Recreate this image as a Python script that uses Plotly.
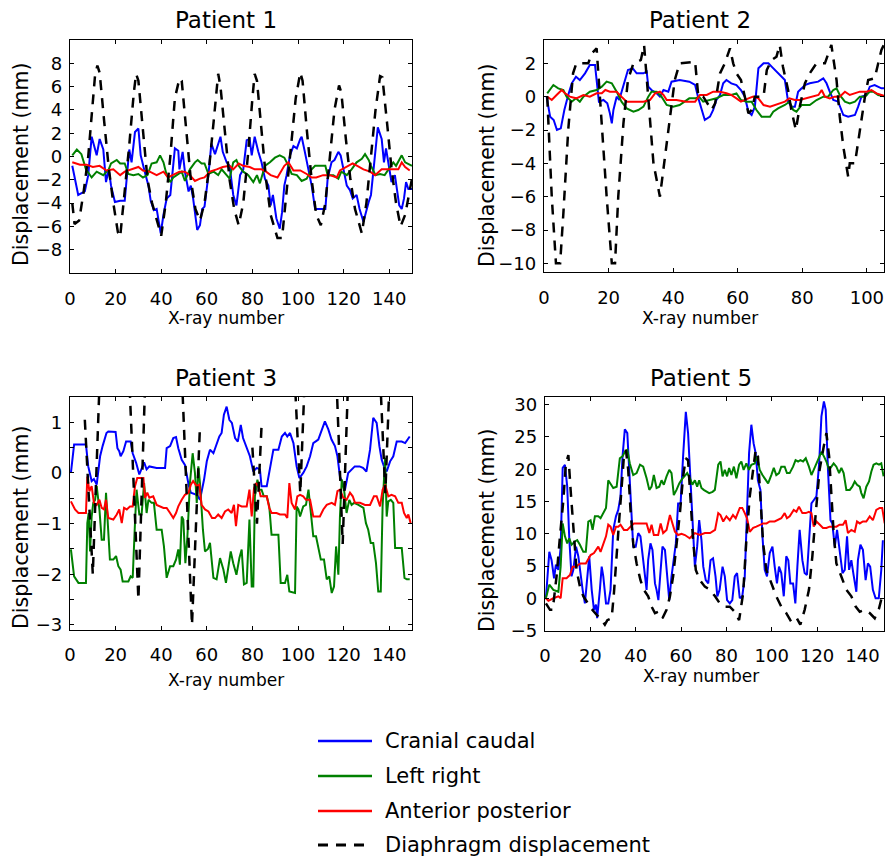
import plotly.graph_objects as go

# ---------------- data (x-ray number, displacement mm) ----------------
p1_cranial = [(1,-0.8),(3.6,-3.3),(6.5,-3.0),(8,-1.6),(9.5,1.7),(11.7,0.1),(13,1.5),(14.6,0.6),(15.8,-2.2),(17,-1.1),(18,-2.5),(19.7,-3.9),(22,-3.8),(24,-3.8),(25,-1.6),(26,0.6),(27,-0.5),(28.5,2.1),(30,2.4),(31,0.1),(32.5,-1.1),(34.4,-2.5),(35.4,-3.8),(36.8,-4.6),(38,-4.5),(39.8,-6.6),(41,-5.0),(42.4,-3.6),(44,-3.3),(45,-1.1),(46,0.7),(47.5,0.5),(48,-1.1),(49.4,0.4),(50.4,-1.3),(52,-3.0),(53,-2.5),(54,-3.6),(55.8,-6.3),(57,-5.9),(58,-4.5),(59,-4.3),(60.7,-1.6),(62,1.1),(63.6,0.2),(66,1.7),(67,0.4),(68.7,-0.5),(70,-0.8),(71.6,-3.3),(73,-4.2),(74.6,-1.6),(76,-1.1),(77.5,1.4),(78.8,1.5),(79.7,0.1),(81,1.7),(82.6,0.4),(84,-0.5),(85.5,-1.9),(87,-2.5),(88,-4.2),(89,-3.3),(90.5,-5.3),(92,-6.2),(93,-4.8),(94,-2.5),(95,-1.6),(96.5,0.1),(98,0.9),(99.5,0.7),(101,1.5),(101.6,1.7),(103,0.4),(104.5,-1.1),(106,-2.5),(107.5,-4.5),(110,-4.5),(112,-4.5),(113,-1.9),(114.7,-0.5),(116,-0.3),(117.7,0.4),(118.7,0.1),(120,-1.1),(121.4,-2.5),(122.8,-2.9),(124,-3.6),(125.7,-3.3),(127,-4.5),(128.7,-5.6),(130,-4.5),(131,-3.9),(132,-3.3),(133,-1.3),(134,0.7),(135,2.5),(136.7,1.5),(137.7,-0.5),(138.6,0.7),(140,-1.1),(141,-2.2),(142.5,-1.6),(144.4,-4.2),(145.5,-4.5),(146.5,-3.6),(147.4,-2.2),(148.4,-2.8),(150,-2.8)]
p1_leftright = [(1,0.1),(3,0.6),(5,0.2),(7,-1.1),(9.5,-1.8),(11.7,-1.3),(14.6,-1.6),(17,-1.1),(18,-0.6),(20.5,-0.3),(22,-0.6),(24,-0.6),(25.6,-1.5),(27.8,-1.6),(30,-1.5),(32,-1.8),(34,-1.6),(35.8,-0.6),(38,-0.5),(39.5,0.1),(41,-0.5),(42.4,-1.6),(44,-2.2),(45.3,-1.8),(46.8,-1.6),(49,-1.3),(50.4,-2.1),(52.6,-1.1),(54.8,-0.5),(56,-0.3),(57.7,-0.6),(59,-0.6),(60.7,-1.5),(63,-1.3),(65,-1.6),(66.5,-1.1),(68.7,-1.6),(70,-1.9),(71.6,-0.5),(73,-0.3),(74,-0.8),(76,-1.3),(78.2,-1.6),(80.4,-2.2),(82,-1.6),(83.3,-2.3),(85.5,-0.8),(87.7,-0.5),(89.9,-0.1),(92,0.1),(94,-0.1),(95.8,-0.8),(97.2,-1.5),(99.5,-1.6),(101.6,-2.1),(103.8,-1.9),(106,-1.1),(107.5,-0.8),(112,-0.8),(113,-1.6),(115.5,-1.6),(117.7,-1.9),(119,-1.3),(121.4,-1.6),(123.5,-1.1),(125.7,-0.5),(128,-0.2),(129.4,0.2),(131,-0.3),(132,-0.8),(134,-1.6),(136,-1.5),(138,-1.6),(139.6,-1.1),(141.8,-0.5),(143,-0.8),(145.5,0.1),(147,-0.5),(150,-0.8)]
p1_antpost = [(1,-0.5),(4.4,-0.7),(7.3,-0.7),(10,-0.9),(13,-0.8),(16,-1.2),(19,-1.1),(22,-1.6),(24,-1.3),(27,-1.1),(30,-0.9),(32,-1.2),(35,-1.3),(38,-1.6),(41,-1.3),(43,-1.8),(45,-1.6),(48,-1.3),(50.4,-1.3),(52.6,-1.6),(54.8,-2.1),(57,-1.9),(59,-1.8),(61.4,-1.3),(64.3,-1.1),(67,-0.9),(70,-0.8),(71.6,-1.1),(74,-0.6),(76,-0.8),(78.8,-0.9),(81,-1.1),(84,-1.1),(86,-1.3),(88,-1.6),(91,-1.8),(94,-0.8),(95.8,-0.5),(98,-1.2),(101,-1.2),(103.8,-1.5),(106,-1.8),(108,-1.8),(111,-1.6),(114,-1.6),(117,-1.8),(118.4,-1.2),(121.4,-0.9),(124,-0.6),(126,-0.8),(128.7,-1.1),(131.6,-1.3),(133.8,-1.6),(136.7,-1.1),(138.9,-1.1),(141,-1.1),(144,-1.1),(145.5,-0.5),(147,-0.9),(149,-1.2)]
p1_diaphragm = [(1,-4),(2,-5.8),(4,-5.5),(6,-3),(8,0),(10,4.5),(11,7),(12,7.8),(13,7.2),(15,3),(17,-1),(19,-4),(21,-6.5),(22,-6.9),(24,-3),(26,1),(28,5.5),(29,7.1),(30,6.5),(32,2),(34,-2),(36,-4),(38,-5.5),(40,-6.8),(42,-4),(44,0),(46,5),(48,6.7),(49,6.5),(51,2),(53,-2),(55,-4.5),(57,-5.5),(59,-4),(61,-1),(63,3),(65,7.1),(66,6),(68,2),(70,-2),(72,-4.5),(74,-5.9),(76,-4),(78,0),(80,5),(81,7.1),(82,6.5),(84,2),(86,-2),(88,-5),(90,-6.5),(91,-7),(93,-7),(95,-3),(97,1),(99,5),(101,7.2),(102,6.5),(104,2),(106,-2),(108,-5),(110,-5.9),(112,-4),(114,0),(116,4),(118,6.1),(119,5.5),(121,1.5),(123,-2),(125,-4.5),(128,-6.6),(130,-4),(132,0),(134,4),(136,6.9),(137,6.8),(139,3),(141,-1),(143,-4),(145,-6),(147,-5),(150,-1.9)]

p2_cranial = [(0.8,0),(1.9,-1.2),(3,-1.4),(4,-2),(5.2,-1.9),(6.3,-0.8),(7.5,0.1),(8.6,0.8),(9.9,1.2),(11.1,1),(12.7,1.4),(14.2,1.9),(15.8,1.9),(16.5,0.8),(17,-0.3),(18.4,-0.2),(19.6,-0.4),(20.4,-1),(21,-1.6),(21.5,-0.8),(22.5,0),(23.3,-0.2),(24.6,0.6),(26,1.6),(27.5,1.7),(28.7,1.4),(30.8,1.4),(31.8,1.5),(32.3,0.6),(33.3,0.4),(34.9,0.2),(35.9,0),(37,0.4),(38.5,0.3),(39.5,0.9),(42,1),(45,0.9),(46.8,0.7),(47.8,-0.1),(48.8,-0.8),(49.8,-1.4),(51.4,-1.2),(52.4,-0.8),(53.4,-0.2),(54.5,0.1),(55.5,0.8),(56.5,1),(58,0.8),(59.6,0.7),(61,0.4),(62.2,0),(63.3,-0.9),(64.3,-1.1),(65.3,-0.6),(66.4,1.7),(68,2),(69.5,2),(70.5,1.8),(72,1.5),(73.6,1.2),(74.6,1),(75.6,-0.3),(76.7,-0.6),(77.7,-0.6),(78.7,0.3),(79.8,0.5),(80.8,0.7),(82.3,0.8),(84.9,0.9),(86.5,1.1),(87.5,0.8),(88.5,0.3),(89.6,-0.2),(91.1,-0.3),(92.7,-1.1),(94.2,-1.2),(96.3,-1.1),(97.3,-0.6),(98.3,0),(99.9,0.1),(100.9,0.6),(102.4,0.7),(104.5,0.5),(106,0.5)]
p2_leftright = [(1,0.2),(2.9,0.7),(4.4,0.5),(6,0.4),(7,0),(8.6,-0.3),(9.9,-0.1),(11.1,-0.3),(12.2,0),(14.2,0.3),(16.3,0.4),(17.9,0.6),(19.4,0.9),(21,0.8),(22.5,0.3),(24,-0.3),(25.6,-0.7),(27.7,-0.9),(29.2,-0.8),(30.8,-0.6),(32.3,0),(33.3,0.3),(34.9,0.3),(36.4,0),(38,-0.5),(40,-0.6),(42,-0.5),(45,-0.1),(47,-0.1),(48,0),(49.3,-0.3),(51.4,-0.2),(53.4,-0.1),(55.5,0.1),(58,0.1),(59.6,0.2),(61,-0.2),(62.7,-0.3),(64.3,-0.3),(65.8,-0.8),(67.4,-1.2),(70,-1.2),(71,-0.9),(72.5,-0.7),(74.6,-0.5),(76,-0.3),(77.2,-0.8),(78.2,-0.9),(79.8,-0.5),(82.3,-0.5),(84.4,-0.2),(86.5,0),(88,0),(89.6,0.4),(90.6,0.5),(91.6,0.1),(93.2,-0.3),(94.7,-0.4),(96.3,-0.3),(97.8,0),(99.4,0),(100.9,0.3),(102,0.3),(103.5,0.1),(106,0)]
p2_antpost = [(1,0),(2.4,-0.2),(3.9,0.1),(5.5,0.4),(6.5,0.2),(8,0),(10,-0.1),(12.2,0.1),(14.2,0),(16.3,0.2),(17.9,0.2),(19,0.4),(20.4,0.3),(22.5,0.3),(24,0),(25.6,-0.3),(27.7,-0.3),(30.8,-0.3),(32.8,-0.2),(34.4,0.2),(35.9,0.3),(37,0.1),(38,-0.2),(41,-0.2),(44,-0.3),(46.8,-0.3),(48.3,0.1),(50.4,0.1),(52.4,0.3),(54.5,0.3),(56.5,0.2),(58,0.1),(59.6,-0.1),(61,-0.3),(63.3,-0.1),(64.8,0),(66.4,-0.1),(68,-0.5),(70,-0.6),(71.5,-0.5),(73,-0.4),(74.6,-0.3),(76,-0.1),(77.7,-0.2),(79.2,-0.2),(81.3,-0.1),(83.4,0),(85,0.1),(86,0.4),(87,0),(88.5,-0.1),(90,0),(91.6,0),(93.2,0.3),(94.7,0.1),(96.3,0.2),(97.8,0.3),(99.9,0.3),(101.4,0.4),(103,0.2),(106,0)]
p2_diaphragm = [(1,0),(2.4,-6),(3.7,-10),(5,-10),(6,-7),(7.5,-2),(9,1.4),(10,2),(13.7,2),(14.8,2.6),(16.3,2.9),(16.8,1.4),(17.9,-2),(19.4,-6),(21,-10),(22,-10),(23,-6),(24.6,-1.6),(26,1),(27.7,2),(29,2.1),(30,2.2),(31,3.1),(32.3,0),(33.9,-4),(35.9,-6),(37.5,-3.6),(39,-1),(40.5,1),(42,2),(46.8,2.1),(47.8,0),(49.3,0),(51.9,-0.8),(53,-0.4),(54.5,1.4),(56,2),(57.6,2.9),(58.6,2),(59.6,1.4),(61,1),(62.2,0),(63.3,-1),(64.3,-0.8),(65.3,0),(68,0),(69,1.6),(70.5,2.2),(72,2.4),(73,3.1),(74,1.8),(75.6,0.4),(76.6,-0.8),(78,-2),(79.2,-0.6),(80.8,0.8),(82.3,1.4),(84.4,2),(87,2),(89,3.1),(90.6,1),(91.6,-1.2),(92.7,-3),(94.2,-4.8),(94.7,-4),(96.3,-4),(97.8,-2),(99.4,0),(100.4,1),(102.4,1.1),(104.5,2.8),(105.5,3.2)]

p3_cranial = [(0.4,0),(1.8,0.56),(7,0.56),(8,0.13),(9.5,-0.16),(10.5,-0.12),(11.7,-0.23),(13.2,0.33),(14.3,0.53),(16,0.79),(16.8,0.82),(20,0.81),(20.8,0.49),(21.6,0.43),(22.2,0.33),(23.4,0.43),(24.6,0.62),(26.6,0.62),(27.5,0.39),(29,0.2),(30.4,-0.03),(31.4,0.07),(32.5,0.21),(33.6,0.07),(34.8,0.13),(38,0.1),(41.7,0.1),(42.4,0.49),(43.9,0.53),(45.3,0.69),(46.5,0.71),(47.5,0.49),(49,0.26),(50.4,0.16),(52,-0.23),(53,-0.39),(55.6,-0.43),(57,-0.53),(57.7,-0.39),(58.8,-0.13),(60,0.23),(61.4,0.46),(62.9,0.39),(64.3,0.59),(65.5,0.72),(66.5,0.79),(67.5,1.15),(68.7,1.31),(69.9,1.05),(71,0.99),(72.4,0.69),(73.6,0.62),(74.9,0.95),(75.9,0.69),(77.5,0.49),(78.9,0.33),(80.4,0.03),(81.9,0.1),(83.3,0.07),(84,-0.26),(86.3,-0.26),(87.7,0.13),(89.2,0.46),(91.4,0.46),(92.9,0.72),(94.3,0.79),(95.3,0.72),(96.5,0.79),(98,0.59),(99.4,0.13),(100.6,-0.1),(102.3,0),(103.8,0.13),(105.3,0.33),(106.7,0.59),(108.9,0.66),(110.4,0.86),(111.8,1.02),(113.3,0.86),(114.7,0.66),(116.2,0.53),(117.3,0.33),(118.4,-0.07),(119.6,-0.2),(120.6,-0.33),(122,0),(123.5,0.07),(124.9,0.13),(127,0.13),(128.5,0.1),(130,0.03),(131.6,0.46),(133,1.09),(134.5,0.99),(135.7,0.53),(136.7,0.26),(137.7,0.13),(138.9,0.03),(140.4,0.23),(141.8,0.33),(143.3,0.62),(145.5,0.62),(147,0.59),(149,0.72)]
p3_leftright = [(0.4,-1.51),(1.8,-2.04),(3.7,-2.17),(7,-2.17),(7.6,-0.99),(8.2,-0.79),(8.8,-1.55),(9.5,-0.86),(10.2,-0.59),(11,-0.53),(11.7,-0.26),(12.9,-0.72),(13.9,-1.32),(14.9,-1.32),(15.8,-0.39),(16.8,-1.12),(17.5,-1.71),(19,-1.71),(20.2,-1.64),(21.2,-1.84),(22.2,-1.91),(23.1,-2.14),(25.6,-2.14),(26.6,-2.04),(27.5,-2.07),(28.5,-0.99),(29.2,-0.33),(30.4,-0.82),(31.4,-0.82),(32.5,-0.2),(33.6,-0.79),(34.4,-0.53),(35.8,-0.59),(36.8,-0.59),(38,-1.12),(40.2,-1.12),(41.2,-1.45),(42.4,-2.07),(43.9,-1.84),(45.3,-1.84),(46.5,-1.71),(47.5,-1.51),(48.2,-1.81),(49,-0.86),(49.7,-0.92),(50.6,-1.78),(51.5,-1.25),(52.6,-0.2),(53.8,0.39),(54.8,0),(55.6,-0.59),(56.3,0.13),(57,-0.2),(58.3,-1.12),(59.2,-1.55),(60.5,-1.5),(61.4,-1.38),(62.9,-2.07),(64.3,-2.1),(65.8,-1.68),(67.3,-1.91),(68.4,-2.17),(69.4,-1.91),(70.5,-1.55),(71.6,-1.78),(73,-2.01),(74.3,-1.68),(75.3,-1.51),(76.3,-2.2),(77.5,-2.17),(78.7,-0.92),(79.7,-2.24),(80.4,-2.24),(81.1,-0.46),(82.2,-0.13),(83,-0.33),(84,-0.33),(85,-0.46),(86.3,-0.46),(87.4,-0.66),(88.4,-1.22),(91.4,-1.22),(92.4,-2.17),(94.3,-2.17),(95.3,-2.01),(96.2,-2.34),(98.7,-2.37),(99.4,-0.66),(100.2,-0.72),(100.9,-0.86),(102.3,-0.66),(103.5,-0.63),(104.6,-0.33),(105.6,-0.72),(106.7,-1.25),(107.9,-1.25),(108.9,-1.45),(110,-1.71),(111.4,-1.71),(112.6,-2.1),(113.7,-2.04),(114.8,-2.37),(115.8,-2.24),(116.7,-1.45),(117.7,-2.01),(118.4,-0.86),(119.2,-0.13),(120.2,-0.33),(121.3,-0.79),(122.5,-0.53),(123.5,-0.63),(124.6,-0.59),(126.5,-0.63),(128.7,-0.69),(129.8,-0.99),(130.8,-1.12),(131.9,-1.38),(133,-1.38),(134.2,-1.78),(135.2,-2.34),(136.3,-2.34),(137.1,-0.66),(138.2,0.3),(138.9,-0.86),(139.6,-0.56),(140.7,-0.53),(141.8,-0.59),(142.6,-1.48),(145.5,-1.48),(146.7,-2.07),(147.7,-2.1),(149,-2.1)]
p3_antpost = [(0.4,-0.56),(2.2,-0.72),(3.7,-0.79),(7,-0.79),(7.6,-0.07),(8.5,-0.36),(9.5,-0.26),(10.5,-0.59),(11.7,-0.63),(12.9,-0.53),(13.9,-0.69),(14.9,-0.72),(15.8,-0.53),(16.8,-0.89),(19,-0.92),(20.5,-0.82),(21.6,-0.72),(22.7,-0.99),(23.7,-0.69),(24.9,-0.72),(26.3,-0.66),(27.5,-0.66),(28.5,-0.26),(29.5,-0.1),(32.2,-0.1),(32.9,-0.49),(33.9,-0.39),(34.8,-0.49),(36.5,-0.46),(38,-0.63),(41,-0.69),(42.4,-0.69),(43.9,-0.79),(45.3,-0.89),(46.5,-0.79),(47.5,-0.66),(49,-0.53),(50.4,-0.43),(52,-0.39),(53,-0.23),(54,-0.16),(55.6,-0.26),(56.7,-0.23),(57.7,-0.63),(59.2,-0.72),(60.7,-0.76),(62.3,-0.89),(63.6,-0.89),(65,-0.82),(66.5,-0.89),(68,-0.76),(69.4,-0.72),(70.9,-0.79),(71.9,-0.63),(72.8,-1.05),(73.8,-0.63),(75.3,-0.66),(77.5,-0.66),(78.7,-0.33),(79.7,-0.86),(80.7,-0.3),(81.6,-0.2),(82.6,-0.26),(83.6,-0.46),(86.3,-0.46),(87.4,-0.69),(88.4,-0.79),(90.6,-0.79),(92.1,-0.82),(94.3,-0.82),(95.3,-0.89),(96.2,-0.2),(97.2,-0.59),(98.7,-0.72),(99.7,-0.46),(100.9,-0.43),(102.3,-0.46),(103.5,-0.53),(105.3,-0.53),(106.7,-0.86),(109.6,-0.86),(111.1,-0.72),(112.6,-0.63),(114.8,-0.59),(116.2,-0.63),(117.3,-0.36),(118.4,-0.33),(119.9,-0.49),(121.3,-0.53),(122.8,-0.39),(124,-0.46),(125,-0.59),(127.2,-0.59),(129.4,-0.63),(131.6,-0.63),(133.3,-0.46),(134.5,-0.46),(136,-0.66),(137.1,-0.33),(138.2,-0.23),(139.6,-0.46),(141,-0.43),(142.6,-0.46),(144,-0.59),(145.5,-0.59),(146.5,-0.79),(147.7,-0.89),(148.4,-0.82),(149.4,-0.99)]
p3_diaphragm = [(6.5,1.05),(10,-2.0),(19,9.5),(30,-2.5),(40,12),(53.5,-3.0),(57,0.92),(None,None),(80,0.5),(82,-1.0),(84,0.92),(None,None),(92,8),(101,-0.4),(110,10),(119.6,-1.4),(128,10),(138.3,-0.4),(147,10)]

p5_cranial = [(0.4,0),(1.9,7.2),(2.9,5.9),(4,3.1),(4.8,5.2),(5.9,4.4),(6.9,7.8),(7.8,20.2),(8.8,20.7),(9.8,17.3),(10.7,9.3),(11.7,3.4),(12.5,4.4),(13.7,8),(14.7,6.5),(15.4,4.4),(16.6,1.3),(17.6,-0.8),(18.6,3.4),(19.5,6.5),(20.6,1.3),(21.6,-1.8),(22.5,-1),(23,-3.1),(24.2,1.3),(25,4.9),(25.7,3.4),(26.9,-0.8),(27.9,-0.8),(28.9,1.3),(30.1,10.6),(31.3,12.7),(32.3,13.7),(33.3,15.8),(34.2,22),(35.2,26.2),(36.3,25.6),(37.2,18.9),(38.2,12.7),(38.9,8),(40,8),(41.1,10.1),(42.1,9.6),(43,6.5),(44.1,3.4),(44.8,1.3),(45.5,5.9),(46.5,8.5),(47.4,7.5),(48.5,2.3),(49.2,1.3),(50,-0.3),(51,4.4),(51.8,8),(52.9,7.5),(53.9,3.4),(54.8,-0.3),(55.8,3.4),(56.8,6.5),(57.7,8.5),(58.7,14.7),(59.8,14.7),(60.9,22),(62.1,28.9),(63.1,25.6),(64.2,17.8),(65,10.6),(66.1,4.9),(67.1,8),(68,12.1),(69,9),(69.8,4.9),(70.9,2.8),(72,2.3),(73,5.9),(74.1,6.2),(75.2,3.4),(76,0.3),(77,1.3),(78.3,4.9),(79.3,3.4),(80.3,-0.3),(81.5,-0.8),(82.6,-0.3),(83.7,3.4),(84.7,3.9),(85.9,0),(87,0.3),(88.1,3.4),(89.1,12.1),(90,22.5),(91,26.9),(92,24),(92.9,22.5),(93.9,18.3),(95,16.8),(95.9,9.6),(96.9,4.4),(97.9,3.4),(99.1,7),(100.3,8),(101.3,4.9),(102.3,2.3),(103.2,4.9),(104.2,3.9),(105.3,0.3),(106.4,6.5),(107.3,5.9),(108.2,2.3),(109.4,2.3),(110.4,-0.8),(111.3,4.9),(112.3,10.6),(113.5,5.9),(114.5,3.9),(115.5,3.6),(116.4,8.5),(117.5,14.7),(118.5,15.2),(119.7,15.8),(120.9,20.9),(121.9,28.2),(123,30.5),(123.8,29.2),(124.8,19.9),(125.9,12.1),(126.7,11.6),(127.8,8),(128.8,10.6),(129.8,8),(131.2,3.9),(132.2,4.4),(133.2,9.6),(134.1,4.4),(135.1,5.9),(136.1,3.6),(137.3,1),(138,5.9),(139.1,8.3),(140.2,7.5),(141.4,2.8),(142.4,5.4),(143.4,4.9),(144.6,1.3),(145.8,0),(147.2,0),(148.3,4.4),(149,9)]
p5_leftright = [(0.4,0),(1.9,2.1),(3.7,1.3),(5.9,1),(6.9,4.9),(7.8,11.6),(8.8,9.6),(9.8,8.5),(10.7,9.3),(11.7,8.3),(13.2,8.8),(14.2,9),(15.4,8.3),(16.9,7.2),(18,7.2),(19.1,11.9),(20.1,12.1),(21,10.6),(22,12.7),(23.5,12.7),(24.5,12.4),(25.7,13.2),(26.9,14),(27.9,18.3),(28.9,17.8),(30.1,17.1),(31.6,17.3),(33,21.7),(34.2,22),(35.2,22.7),(36.3,23),(37.4,20.9),(38.9,19.1),(40.4,19.4),(41.9,20.7),(43.3,20.4),(44.8,18.6),(46,16.8),(47,17.3),(48,19.1),(49.2,17.1),(50.4,17.3),(51.4,18.3),(52.4,17.6),(53.6,18.9),(54.8,19.9),(55.8,19.4),(56.8,16),(58,16.8),(59.2,17.8),(60.5,18.5),(61.5,18.9),(62.7,19.4),(63.9,18.6),(65,17.6),(66.1,18.3),(67.1,17.3),(68,18.3),(69,17.1),(70,16.8),(71.2,16.5),(72.4,16.3),(73.9,16.5),(74.9,16.8),(76.4,20.7),(77.4,21.2),(78.3,18.9),(79.3,19.9),(80.3,18.9),(81.2,20.2),(82.2,19.1),(83.3,20.4),(84.4,18.6),(85.6,20.7),(86.6,21.2),(87.6,19.9),(88.8,20.9),(89.9,19.9),(91,20.7),(92.5,20.9),(93.5,22),(94.7,19.9),(95.9,19.1),(96.9,18.6),(98.4,17.8),(99.8,19.1),(100.9,20.2),(102,19.1),(103.2,19.4),(104.2,20.4),(105.7,20.4),(106.7,19.4),(107.9,19.4),(109.4,20.4),(110.5,21.4),(111.6,21.2),(112.6,21.4),(113.8,21.2),(115,21.7),(116.4,20.4),(117.5,19.1),(118.5,19.9),(119.7,20.9),(120.9,22),(121.9,22.7),(123,22),(124.1,21.2),(125.3,19.9),(126.3,20.4),(127.3,20.9),(128.5,20.4),(129.7,19.4),(130.7,20.2),(131.7,19.4),(132.9,16.8),(134.4,16.8),(135.5,17.3),(136.6,18.1),(137.6,17.6),(138.8,17.3),(139.5,16.3),(140.5,15.5),(141.7,17.3),(142.9,18.1),(143.9,19.6),(144.9,20.7),(146.1,20.9),(147.3,20.7),(148.3,20.9),(149.3,18.9)]
p5_antpost = [(0.4,0),(1.5,-0.4),(3.7,0),(5.9,0.3),(6.9,0),(7.8,3.1),(9.5,3.1),(11,3.6),(12.2,4.9),(13.7,4.9),(14.7,5.2),(15.7,5.4),(18,5.4),(19.1,6.2),(20.1,6.7),(21.6,7),(23.5,8),(24.5,7.2),(25.7,8.5),(26.9,9.6),(27.9,11.4),(28.9,11.1),(30.1,9.8),(31.3,11.1),(32.3,11.1),(33.3,11.4),(34.8,10.6),(36.3,10.6),(37.7,11.1),(39.2,11.6),(44.8,11.6),(46,10.1),(47,11.4),(48,9.8),(49.9,9.8),(51,11.6),(52.1,10.1),(53.6,10.6),(55.1,12.9),(56.2,11.6),(57.3,10.3),(58.7,9.8),(60.2,10),(61.7,9.8),(63.8,9.3),(66.1,10.1),(68.3,9.8),(70.5,10.1),(72.8,10.1),(75,10.6),(76.4,13.2),(77.4,12.9),(78.6,11.9),(80,12.7),(81.5,12.1),(82.9,12.9),(84.1,12.4),(85.9,14),(87,14),(88.1,13.2),(89.1,12.4),(90.3,10.3),(91.8,10.9),(93.2,11.1),(94.7,11.4),(96.2,11.6),(97.7,11.6),(99.1,11.9),(101.3,11.9),(102.8,12.1),(104.2,12.4),(105.7,13.2),(106.7,12.4),(107.9,12.7),(109.7,13.7),(110.9,13.4),(112,14.2),(113.5,13.2),(115,13.2),(116.4,13.4),(117.5,13.2),(118.5,11.1),(119.7,11.9),(121.2,11.4),(122.6,10.9),(124.1,10.9),(125.5,11.1),(128.5,11.1),(129.9,11.4),(131.4,11.4),(132.6,12.1),(133.6,10.1),(135.1,10.6),(136.6,10.3),(137.6,11.9),(138.8,11.6),(140.2,11.9),(141.7,11.9),(143.2,12.7),(144.6,12.1),(146.1,13.7),(147.6,14),(148.7,14),(149.8,11.6)]
p5_diaphragm = [(0.4,-0.8),(2.2,-1.8),(3.4,-1.8),(5.1,3.4),(6.6,9.6),(8.1,15.2),(9.2,20.9),(10.3,22.2),(11.3,16.8),(12.5,10.6),(13.9,4.4),(15.4,1.8),(16.9,0.3),(18.4,-0.5),(19.8,-1.3),(21.6,-2.1),(23.5,-2.8),(25.4,-3.6),(26.4,-4.1),(27.5,-3.4),(29.4,-3.1),(30.4,0.8),(32.3,10.1),(33.8,16.8),(34.8,22),(35.7,23),(36.7,19.9),(37.7,13.7),(38.9,8.5),(40.4,5.4),(42.1,2.8),(43.6,1.3),(45.5,0.3),(47,-1.3),(48.5,-2.3),(49.9,-2.1),(51.8,-3.1),(53.6,-1.8),(55.1,0.3),(56.5,3.4),(58,8),(59.5,13.2),(60.9,18.9),(62.1,21.7),(63.1,21.4),(64.2,15.2),(65.3,9),(66.5,4.4),(68.3,2.8),(70.5,1.8),(72.8,1.3),(75,0.3),(77.1,-0.8),(79.3,-1.3),(81.5,-1.3),(83.7,-2.1),(85.6,-3.4),(87.4,0.8),(88.8,9),(90.3,15.8),(91.8,20.4),(92.9,23),(93.9,22),(95,14.7),(96.2,8.5),(97.6,4.4),(99.8,2.3),(102,0.3),(104.2,-1.3),(106.4,-2.3),(108.2,-3.4),(110.6,-2.8),(112.6,-4.1),(114.5,-1.8),(116.4,1.3),(117.9,6.5),(119.4,13.2),(121.1,19.9),(122.9,23.5),(124.1,25.6),(125.3,22),(126.3,16.3),(127.3,10.1),(128.5,5.4),(130.7,3.4),(132.9,1.3),(135.1,0.3),(137,-1.3),(138.8,-2.1),(141,-1.8),(143.2,-2.3),(145.4,-3.1),(147.3,-1.6),(149,0.8)]

series_names = ["Cranial caudal", "Left right", "Anterior posterior", "Diaphragm displacement"]
panel_titles = ["Patient 1", "Patient 2", "Patient 3", "Patient 5"]
x_ticks_150 = [0, 20, 40, 60, 80, 100, 120, 140]
x_ticks_100 = [0, 20, 40, 60, 80, 100]
y_ticks_p1 = [-8, -6, -4, -2, 0, 2, 4, 6, 8]
y_ticks_p2 = [-10, -8, -6, -4, -2, 0, 2]
y_ticks_p3 = [-3, -2.5, -2, -1.5, -1, -0.5, 0, 0.5, 1]
y_ticks_p5 = [-5, 0, 5, 10, 15, 20, 25, 30]

# ---------------- layout helpers ----------------
W, H = 885, 856
FONT = "DejaVu Sans"
def fx(p): return p / W
def fy(p): return 1 - p / H

def ticktxt(v):
    s = ("%g" % v)
    return s.replace("-", "\u2212")

panels = [
    dict(data=[p1_cranial, p1_leftright, p1_antpost, p1_diaphragm], xd=(70, 412), yd=(40, 273),
         xr=[0, 150], yr=[-10, 10], xt=x_ticks_150, yt=y_ticks_p1, ylab=[ticktxt(v) for v in y_ticks_p1]),
    dict(data=[p2_cranial, p2_leftright, p2_antpost, p2_diaphragm], xd=(544, 884), yd=(40, 272),
         xr=[0, 105.3], yr=[-10.52, 3.4], xt=x_ticks_100, yt=y_ticks_p2, ylab=[ticktxt(v) for v in y_ticks_p2]),
    dict(data=[p3_cranial, p3_leftright, p3_antpost, p3_diaphragm], xd=(70, 412), yd=(397, 629.5),
         xr=[0, 150], yr=[-3.09, 1.5], xt=x_ticks_150, yt=y_ticks_p3,
         ylab=[ticktxt(v) if float(v).is_integer() else "" for v in y_ticks_p3]),
    dict(data=[p5_cranial, p5_leftright, p5_antpost, p5_diaphragm], xd=(545, 884), yd=(397, 630.5),
         xr=[0, 149.5], yr=[-5, 31.2], xt=x_ticks_150, yt=y_ticks_p5, ylab=[ticktxt(v) for v in y_ticks_p5]),
]

colors = ["#0000ff", "#008000", "#ff0000", "#000000"]
dashes = ["solid", "solid", "solid", "10px,8px"]
widths = [2, 2, 2, 2.5]

fig = go.Figure()
layout = dict(template="none", width=W, height=H, margin=dict(l=0, r=0, t=0, b=0, pad=0, autoexpand=False),
              paper_bgcolor="white", plot_bgcolor="white", showlegend=False,
              font=dict(family=FONT, color="black"))

annotations = []
axis_common = dict(showline=True, linecolor="black", linewidth=1.2, mirror="ticks",
                   ticks="inside", ticklen=4, tickwidth=1, tickcolor="black",
                   showgrid=False, zeroline=False, automargin=False,
                   tickfont=dict(family=FONT, size=18, color="black"))

title_y = [20, 20, 378, 378]
xlab_y = [318, 318, 680, 676]
ylab_y = [165, 165, 528, 530]
ylab_x = [21, 487, 21, 487]

for i, p in enumerate(panels):
    n = i + 1
    xa = "xaxis" if n == 1 else "xaxis%d" % n
    ya = "yaxis" if n == 1 else "yaxis%d" % n
    xref = "x" if n == 1 else "x%d" % n
    yref = "y" if n == 1 else "y%d" % n
    layout[xa] = dict(axis_common, domain=[fx(p["xd"][0]), fx(p["xd"][1])], range=p["xr"],
                      tickvals=p["xt"], ticktext=[ticktxt(v) for v in p["xt"]],
                      anchor=yref, ticklabelstandoff=9)
    layout[ya] = dict(axis_common, domain=[fy(p["yd"][1]), fy(p["yd"][0])], range=p["yr"],
                      tickvals=p["yt"], ticktext=p["ylab"], anchor=xref, ticklabelstandoff=3)
    for k, d in enumerate(p["data"]):
        xs = [a for a, b in d]
        ys = [b for a, b in d]
        fig.add_trace(go.Scatter(x=xs, y=ys, mode="lines", name=series_names[k],
                                 line=dict(color=colors[k], width=widths[k], dash=dashes[k]),
                                 connectgaps=False, xaxis=xref, yaxis=yref, showlegend=False,
                                 hoverinfo="skip"))
    left = p["xd"][0]
    annotations.append(dict(text=panel_titles[i], x=fx(left + 156), y=fy(title_y[i]), xref="paper", yref="paper",
                            showarrow=False, xanchor="center", yanchor="middle",
                            font=dict(family=FONT, size=23, color="black")))
    annotations.append(dict(text="X-ray number", x=fx(left + 156), y=fy(xlab_y[i]), xref="paper", yref="paper",
                            showarrow=False, xanchor="center", yanchor="middle",
                            font=dict(family=FONT, size=17, color="black")))
    annotations.append(dict(text="Displacement (mm)", x=fx(ylab_x[i]), y=fy(ylab_y[i]), xref="paper", yref="paper",
                            showarrow=False, xanchor="center", yanchor="middle", textangle=-90,
                            font=dict(family=FONT, size=20.5, color="black")))

# legend (drawn as a key below the panels)
shapes = []
leg_y = [741, 776, 811, 845]
for k, name in enumerate(series_names):
    shapes.append(dict(type="line", xref="paper", yref="paper", x0=fx(318), x1=fx(372),
                       y0=fy(leg_y[k]), y1=fy(leg_y[k]),
                       line=dict(color=colors[k], width=widths[k] + 0.5, dash=dashes[k])))
    annotations.append(dict(text=name, x=fx(383), y=fy(leg_y[k]), xref="paper", yref="paper",
                            showarrow=False, xanchor="left", yanchor="middle",
                            font=dict(family=FONT, size=21, color="black")))

layout["annotations"] = annotations
layout["shapes"] = shapes
fig.update_layout(**layout)
# remove the browser's default 8 px body margin so the 885x856 figure fills the window exactly
fig.write_html("out.html", config={"displayModeBar": False, "staticPlot": True},
               post_script="document.body.style.margin='0';document.body.style.overflow='hidden';")
